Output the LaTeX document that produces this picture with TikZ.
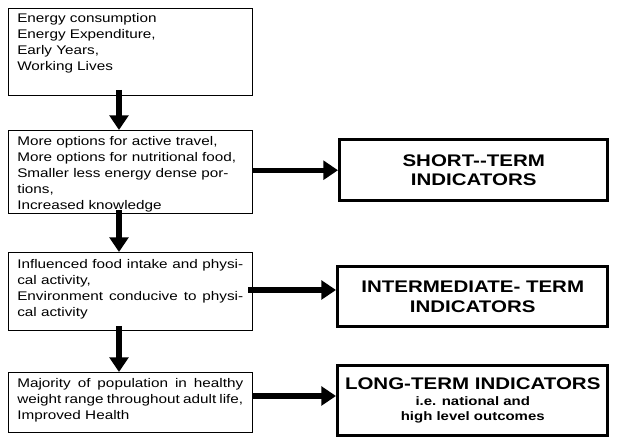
\documentclass[tikz,border=0pt]{standalone}
\usepackage{fontspec}
\setmainfont{Liberation Sans}
\newfontfamily\widesans[FakeStretch=1.22]{Liberation Sans}
\usetikzlibrary{arrows.meta}
\begin{document}
\begin{tikzpicture}[x=0.75pt,y=-0.75pt,
  box/.style={draw,line width=0.9pt,anchor=north west,inner sep=0pt},
  txt/.style={anchor=north west,inner xsep=0pt,inner ysep=0pt,align=justify,font=\widesans\fontsize{9.4}{12}\selectfont},
  ind/.style={draw,line width=2.6pt,anchor=north west,inner sep=0pt,align=center,font=\widesans\bfseries\fontsize{12.6}{14.5}\selectfont},
  flow/.style={line width=4pt,-{Triangle[length=11pt,width=14pt]}}]
\useasboundingbox (0,0) rectangle (621,448);
% left column
\node[box,minimum width=244*0.75pt,minimum height=87*0.75pt] (b1) at (8,8) {};
\node[box,minimum width=244*0.75pt,minimum height=83*0.75pt] (b2) at (8,130) {};
\node[box,minimum width=244*0.75pt,minimum height=78*0.75pt] (b3) at (8,252) {};
\node[box,minimum width=244*0.75pt,minimum height=60*0.75pt] (b4) at (8,372) {};
\node[txt,text width=226*0.75pt,align=left] (t1) at (17,13) {Energy consumption\\Energy Expenditure,\\Early Years,\\Working Lives};
\node[txt,text width=226*0.75pt,align=left] (t2) at (17,136) {More options for active travel,\\More options for nutritional food,\\Smaller less energy dense portions,\\Increased knowledge};
\node[txt,text width=226*0.75pt] (t3) at (17,259) {Influenced food intake and physical activity,\\Environment conducive to physical activity};
\node[txt,text width=226*0.75pt] (t4) at (17,378) {Majority of population in healthy weight range throughout adult life,\\Improved Health};
% right column
\node[ind,minimum width=268*0.75pt,minimum height=61*0.75pt] (s) at (338,138) {SHORT--TERM\\INDICATORS};
\node[ind,minimum width=270*0.75pt,minimum height=60*0.75pt] (m) at (336,265) {INTERMEDIATE- TERM\\INDICATORS};
\node[ind,minimum width=270*0.75pt,minimum height=70*0.75pt,font=\widesans\bfseries\fontsize{9.2}{11.5}\selectfont] (l) at (336,364) {{\fontsize{12.6}{14.5}\selectfont LONG-TERM INDICATORS}\\i.e. national and\\high level outcomes};
% arrows
\coordinate (a1) at (119,90);
\coordinate (a2) at (119,210);
\coordinate (a3) at (119,326);
\draw[flow] (a1) -- (b2.north -| a1);
\draw[flow] (a2) -- (b3.north -| a2);
\draw[flow] (a3) -- (b4.north -| a3);
\draw[flow] (b2.east |- s.west) -- (s.west);
\draw[flow] (248,290) -- (m.west |- 0,290);
\draw[flow] (b4.east |- 0,396) -- (l.west |- 0,396);
\end{tikzpicture}
\end{document}
